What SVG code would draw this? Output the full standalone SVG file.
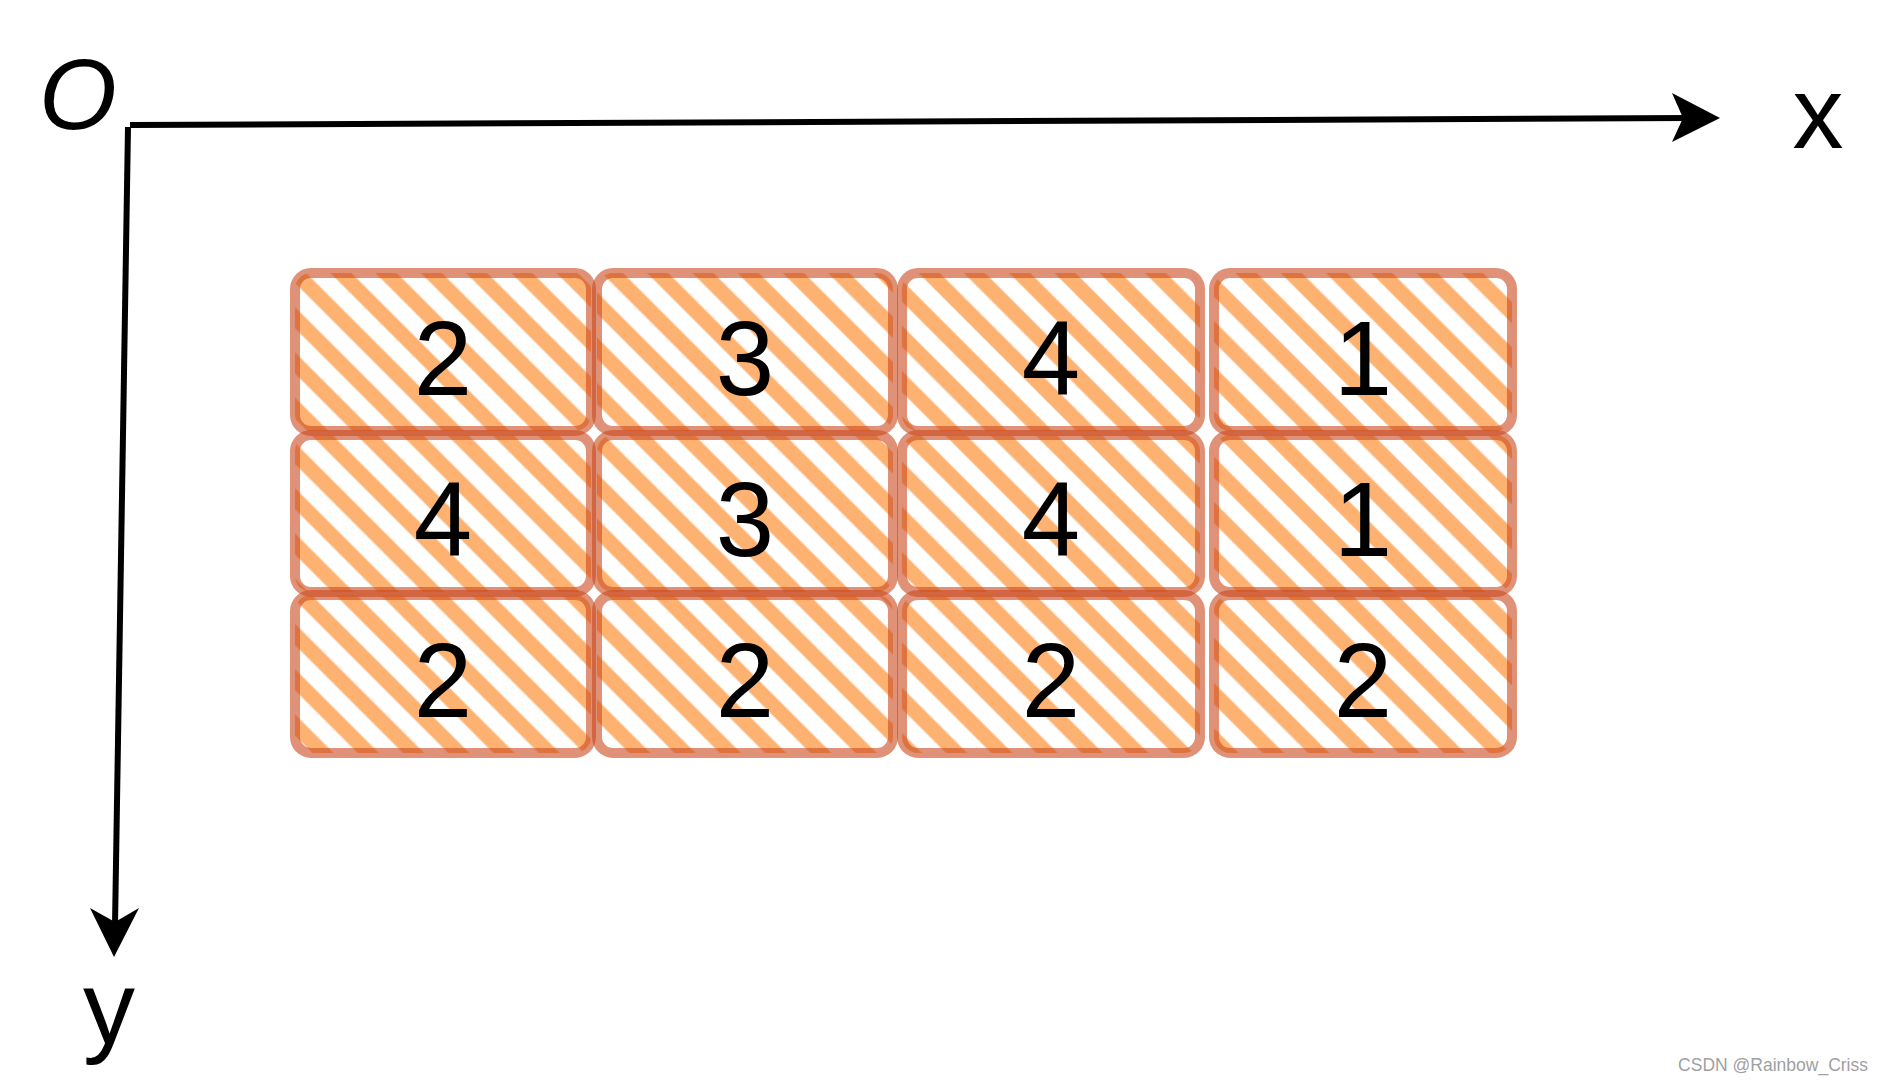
<svg xmlns="http://www.w3.org/2000/svg" width="1884" height="1084" viewBox="0 0 1884 1084">
  <style>
    .cell-bg { fill: url(#hatch); }
    .cell-border { fill: none; stroke: #c94a1e; stroke-opacity: 0.6; stroke-width: 10; }
    .digit { font-family: "Liberation Sans", Arial, sans-serif; font-size: 105px; fill: #000; text-anchor: middle; }
    .axis-label { font-family: "Liberation Sans", Arial, sans-serif; fill: #000; text-anchor: middle; }
    .axis { fill: none; stroke: #000; stroke-width: 6; }
    .head { fill: #000; stroke: none; }
    .wm { font-family: "Liberation Sans", Arial, sans-serif; font-size: 17.5px; fill: #a0a0a0; text-anchor: end; }
  </style>
  <defs>
    <pattern id="hatch" patternUnits="userSpaceOnUse" width="32" height="32" patternTransform="rotate(45)">
      <line x1="-5" y1="16" x2="37" y2="16" stroke="#fd7e14" stroke-opacity="0.6" stroke-width="15"/>
    </pattern>
  </defs>
  <rect width="1884" height="1084" fill="#fff"/>

  <g id="connectors">
    <path class="axis" d="M130,125 L1690,118"/>
    <path class="head" d="M1720,118 L1672,93 L1683,118 L1672,142 Z"/>
    <path class="axis" d="M128,127 L115,925"/>
    <path class="head" d="M114,957 L90,908 L115,922 L139,908 Z"/>
  </g>

  <g id="label-O"><text class="axis-label" x="78" y="129" font-size="100" font-style="italic">O</text></g>
  <g id="label-x"><text class="axis-label" x="1818" y="148" font-size="102">x</text></g>
  <g id="label-y"><text class="axis-label" x="109" y="1043" font-size="104">y</text></g>

  <g id="cell-r1c1"><rect class="cell-bg" x="295" y="273" width="296" height="158" rx="16"/><rect class="cell-border" x="295" y="273" width="296" height="158" rx="16"/><text class="digit" x="443" y="395">2</text></g>
  <g id="cell-r1c2"><rect class="cell-bg" x="597" y="273" width="296" height="158" rx="16"/><rect class="cell-border" x="597" y="273" width="296" height="158" rx="16"/><text class="digit" x="745" y="395">3</text></g>
  <g id="cell-r1c3"><rect class="cell-bg" x="902" y="273" width="298" height="158" rx="16"/><rect class="cell-border" x="902" y="273" width="298" height="158" rx="16"/><text class="digit" x="1051" y="395">4</text></g>
  <g id="cell-r1c4"><rect class="cell-bg" x="1214" y="273" width="298" height="158" rx="16"/><rect class="cell-border" x="1214" y="273" width="298" height="158" rx="16"/><text class="digit" x="1363" y="395">1</text></g>

  <g id="cell-r2c1"><rect class="cell-bg" x="295" y="435" width="296" height="157" rx="16"/><rect class="cell-border" x="295" y="435" width="296" height="157" rx="16"/><text class="digit" x="443" y="556">4</text></g>
  <g id="cell-r2c2"><rect class="cell-bg" x="597" y="435" width="296" height="157" rx="16"/><rect class="cell-border" x="597" y="435" width="296" height="157" rx="16"/><text class="digit" x="745" y="556">3</text></g>
  <g id="cell-r2c3"><rect class="cell-bg" x="902" y="435" width="298" height="157" rx="16"/><rect class="cell-border" x="902" y="435" width="298" height="157" rx="16"/><text class="digit" x="1051" y="556">4</text></g>
  <g id="cell-r2c4"><rect class="cell-bg" x="1214" y="435" width="298" height="157" rx="16"/><rect class="cell-border" x="1214" y="435" width="298" height="157" rx="16"/><text class="digit" x="1363" y="556">1</text></g>

  <g id="cell-r3c1"><rect class="cell-bg" x="295" y="595" width="296" height="158" rx="16"/><rect class="cell-border" x="295" y="595" width="296" height="158" rx="16"/><text class="digit" x="443" y="717">2</text></g>
  <g id="cell-r3c2"><rect class="cell-bg" x="597" y="595" width="296" height="158" rx="16"/><rect class="cell-border" x="597" y="595" width="296" height="158" rx="16"/><text class="digit" x="745" y="717">2</text></g>
  <g id="cell-r3c3"><rect class="cell-bg" x="902" y="595" width="298" height="158" rx="16"/><rect class="cell-border" x="902" y="595" width="298" height="158" rx="16"/><text class="digit" x="1051" y="717">2</text></g>
  <g id="cell-r3c4"><rect class="cell-bg" x="1214" y="595" width="298" height="158" rx="16"/><rect class="cell-border" x="1214" y="595" width="298" height="158" rx="16"/><text class="digit" x="1363" y="717">2</text></g>

  <text class="wm" x="1868" y="1071">CSDN @Rainbow_Criss</text>
</svg>
